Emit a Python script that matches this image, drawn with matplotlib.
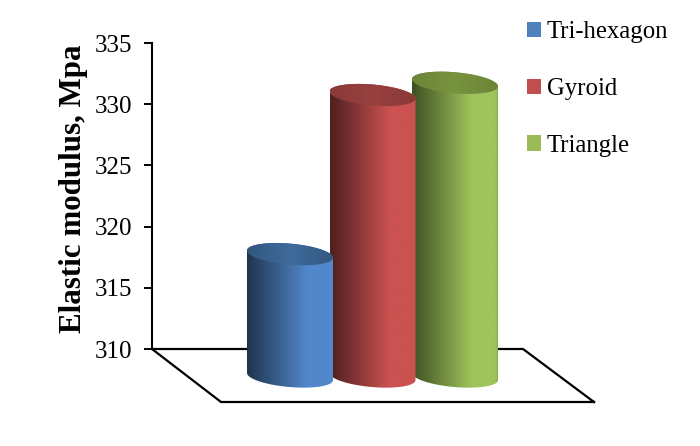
import numpy as np
import matplotlib
matplotlib.use("Agg")
import matplotlib.pyplot as plt
from matplotlib.colors import LinearSegmentedColormap
from matplotlib.patches import Patch, Polygon

names = ["Tri-hexagon", "Gyroid", "Triangle"]
values = [320, 333, 334]
yticks = [310, 315, 320, 325, 330, 335]
ylabel = "Elastic modulus, Mpa"

centers = [290, 372.5, 455]
dark = ["#1f344f", "#4e2020", "#3e4f22"]
light = ["#5288cb", "#cb5250", "#a0c45c"]
edge = ["#5288cb", "#cb5250", "#8fae52"]
cap = ["#3f6a9c", "#97403f", "#78933f"]
capdark = ["#33587f", "#8a3a39", "#6b8538"]
legcol = ["#4f81bd", "#c0504d", "#9bbb59"]

plt.rcParams["font.family"] = ["Liberation Serif", "DejaVu Serif"]

fig = plt.figure(figsize=(7, 4.46), dpi=100)
ax = fig.add_axes([152 / 700, (446 - 349) / 446, (594 - 152) / 700, (349 - 43) / 446])
ax.set_xlim(152, 594)
ax.set_ylim(310, 335)
ax.set_yticks(yticks)
ax.set_xticks([])
ax.tick_params(axis="y", labelsize=18, length=6, width=1.4, pad=8)
for s in ["top", "right", "bottom"]:
    ax.spines[s].set_visible(False)
ax.spines["left"].set_linewidth(1.5)
ax.set_ylabel(ylabel, fontsize=22.3, fontweight="bold", labelpad=5, y=0.525)

# floor, 3d look
ax.plot([594, 523, 152, 221, 594], [305.67, 310, 310, 305.67, 305.67], color="black", lw=1.6,
        clip_on=False, solid_joinstyle="miter", zorder=1)

depth = 2.25   # front of the floor sits lower than the wall
rx = 43
ry = 0.86
tilt = 0.29
t = np.linspace(0, 2 * np.pi, 200)

for i in [2, 1, 0]:
    cx = centers[i]
    top = values[i] - depth
    base = 310 - depth
    ex = cx + rx * np.cos(t)
    off = ry * np.sin(t) - tilt * np.cos(t)
    up = t <= np.pi
    down = t >= np.pi
    px = np.concatenate([ex[up], ex[down]])
    py = np.concatenate([top + off[up], base + off[down]])
    cm = LinearSegmentedColormap.from_list("c", [(0, dark[i]), (0.7, light[i]), (0.97, light[i]), (1, edge[i])])
    grad = np.linspace(0, 1, 256).reshape(1, -1)
    im = ax.imshow(grad, cmap=cm, extent=[cx - rx, cx + rx, base - 1.2, top + 1.2], aspect="auto",
                   zorder=2 + (2 - i) * 2, interpolation="bilinear")
    body = Polygon(np.column_stack([px, py]), closed=True, transform=ax.transData, fc="none", ec="none", clip_on=False)
    ax.add_patch(body)
    im.set_clip_box(fig.bbox)
    im.set_clip_path(body)
    cm2 = LinearSegmentedColormap.from_list("t", [capdark[i], cap[i], capdark[i]])
    im2 = ax.imshow(grad, cmap=cm2, extent=[cx - rx, cx + rx, top - 1.2, top + 1.2], aspect="auto",
                    zorder=3 + (2 - i) * 2, interpolation="bilinear")
    lid = Polygon(np.column_stack([ex, top + off]), closed=True, transform=ax.transData, fc="none", ec="none", clip_on=False)
    ax.add_patch(lid)
    im2.set_clip_box(fig.bbox)
    im2.set_clip_path(lid)

ax.set_xlim(152, 594)
ax.set_ylim(310, 335)

handles = [Patch(fc=c, ec="none") for c in legcol]
fig.legend(handles, names, loc="upper left", bbox_to_anchor=(527 / 700, 1 - 21 / 446), frameon=False,
           fontsize=17.8, labelspacing=1.41, handlelength=0.56, handleheight=0.56, handletextpad=0.24,
           borderaxespad=0, borderpad=0)

fig.savefig("out.png", dpi=100, facecolor="white")
